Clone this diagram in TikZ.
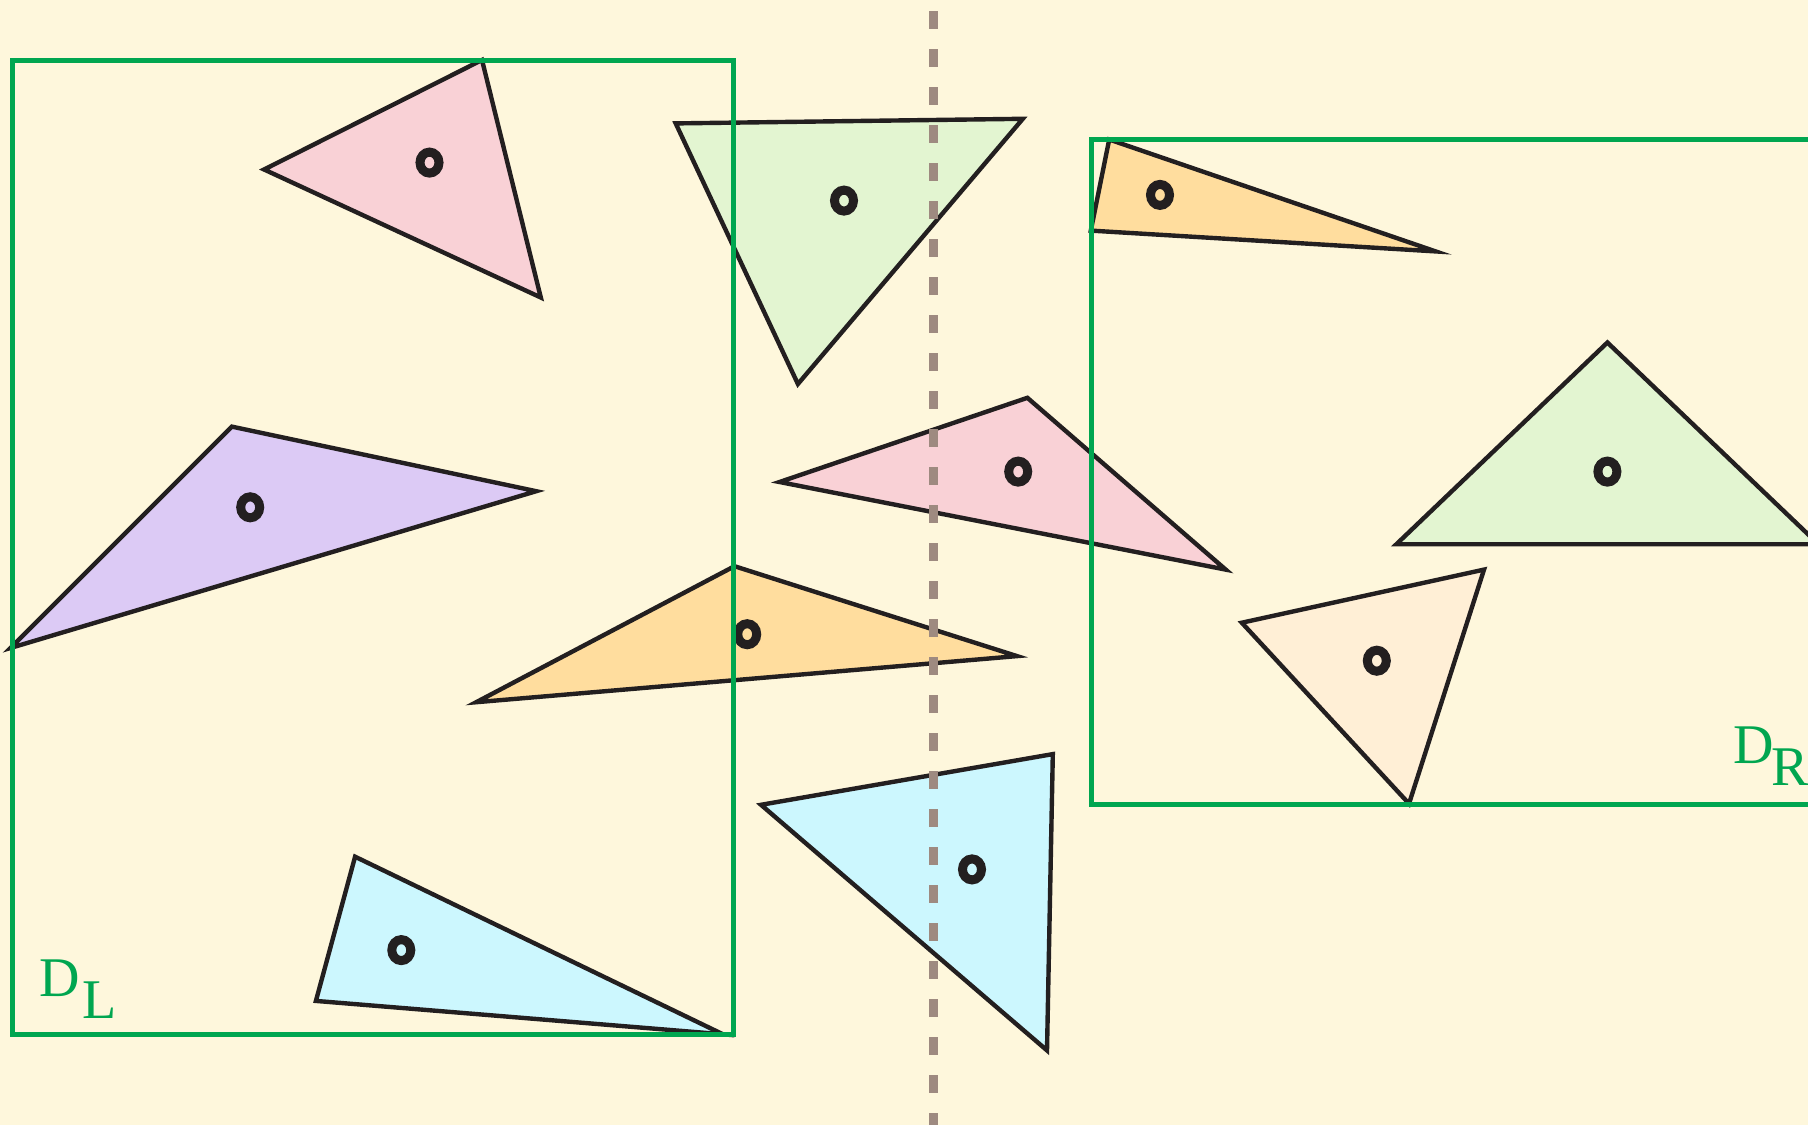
\documentclass[tikz,border=0pt]{standalone}
\usepackage{fontspec}
\setmainfont{Liberation Serif}
\definecolor{bg}{HTML}{FEF7DC}
\definecolor{cpink}{HTML}{F9D1D6}
\definecolor{cgreen}{HTML}{E3F5D1}
\definecolor{corange}{HTML}{FFDD9E}
\definecolor{cpurple}{HTML}{DCCAF5}
\definecolor{ccyan}{HTML}{CCF7FE}
\definecolor{ccream}{HTML}{FFEFD6}
\definecolor{rectgreen}{HTML}{00A650}
\definecolor{dashc}{HTML}{9E8A80}
\definecolor{ink}{HTML}{231F20}
\begin{document}
\begin{tikzpicture}[x=0.5pt,y=-0.5pt,
  tri/.style={draw=ink,line width=2.2pt,line join=miter,fill=#1},
  cdot/.style={draw=ink,line width=4.5pt},
  region/.style={draw=rectgreen,line width=2.5pt},
  lbl/.style={text=rectgreen,font=\fontsize{28pt}{28pt}\selectfont,inner sep=0pt,anchor=base west}]
\fill[bg] (0,0) rectangle (1808,1125);
\useasboundingbox (0,0) rectangle (1808,1125);
% triangles
\filldraw[tri=cpink] (264.1,169.5) -- (482.0,60.0) -- (540.8,297.5) -- cycle;
\filldraw[tri=cgreen] (675.7,123.4) -- (1022.8,118.8) -- (797.9,384.0) -- cycle;
\filldraw[tri=corange] (1109.2,139.5) -- (1090.8,230.6) -- (1435.6,251.4) -- cycle;
\filldraw[tri=cpurple] (231.8,426.6) -- (536.2,491.2) -- (10.4,648.0) -- cycle;
\filldraw[tri=cpink] (779.5,482.0) -- (1027.4,397.8) -- (1225.7,569.6) -- cycle;
\filldraw[tri=cgreen] (1607.4,342.5) -- (1818.4,544.2) -- (1396.4,544.2) -- cycle;
\filldraw[tri=corange] (734.5,566.2) -- (476.2,702.2) -- (1017.0,656.1) -- cycle;
\filldraw[tri=ccream] (1241.8,622.7) -- (1484.0,569.6) -- (1409.0,803.7) -- cycle;
\filldraw[tri=ccyan] (355.1,856.7) -- (315.9,1000.9) -- (723.0,1034.3) -- cycle;
\filldraw[tri=ccyan] (761.0,804.8) -- (1052.8,754.1) -- (1047.0,1050.4) -- cycle;
% centroid marks
\foreach \p in {(429.5,162.6),(844.0,200.6),(1160.0,194.9),(250.2,507.3),(1018.2,471.6),(1607.4,471.6),(747.2,634.2),(1376.8,660.7),(401.3,950.1),(972.0,869.4)}
  \draw[cdot] \p ellipse [x radius=9.5,y radius=10.5];
% dividing line
\coordinate (top) at (933.5,0);
\coordinate (bot) at (933.5,1125);
\draw[dashc,line width=4.5pt,dash pattern=on 9pt off 10pt,dash phase=-5.5pt] (top) -- (bot);
% regions
\draw[region] (12.5,60.5) rectangle (733.5,1034.5);
\draw[region] (1091,139.5) rectangle (1840,804);
\node[lbl] (dl) at (39,996.5) {D};
\node[lbl] (dlsub) at (82,1018) {L};
\node[lbl] (dr) at (1733,763) {D};
\node[lbl] (drsub) at (1771,785) {R};
\end{tikzpicture}
\end{document}
